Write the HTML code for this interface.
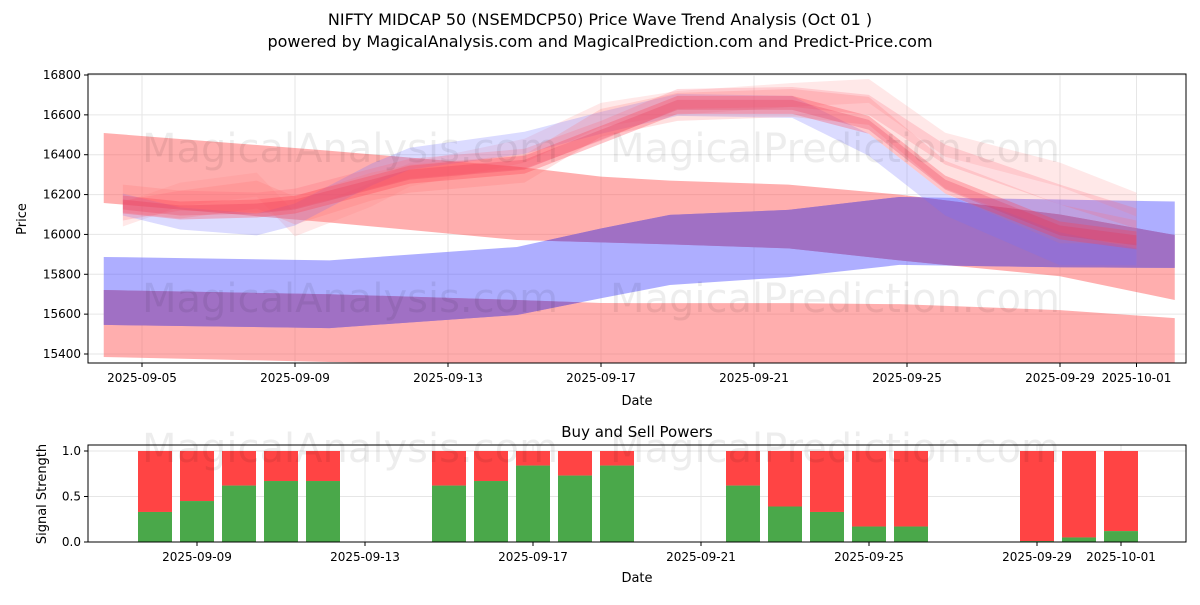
<!DOCTYPE html>
<html><head><meta charset="utf-8"><style>
body{margin:0;background:#fff;font-family:"Liberation Sans","DejaVu Sans",sans-serif}
svg text{font-family:"DejaVu Sans","Liberation Sans",sans-serif}
</style></head><body>
<svg id="c" width="1200" height="600" xmlns="http://www.w3.org/2000/svg">
<defs><clipPath id="pc"><rect x="88" y="74" width="1098" height="289"/></clipPath><clipPath id="redclip"></clipPath></defs>
<text x="600" y="25" font-size="16" text-anchor="middle">NIFTY MIDCAP 50 (NSEMDCP50) Price Wave Trend Analysis (Oct 01 )</text>
<text x="600" y="47" font-size="16" text-anchor="middle">powered by MagicalAnalysis.com and MagicalPrediction.com and Predict-Price.com</text>
<g id="topg"></g><g id="botg"></g>
</svg>
<script>
// ---- top chart data (day offsets from 2025-09-05) ----
const bandDays=[-1,4.9,9.8,12,13.8,16.9,19.8,24,27];
const redWideHi=[16509,16420,16340,16290,16270,16250,16200,16100,15997];
const redWideLo=[16158,16060,15972,15960,15950,15930,15870,15790,15671];
const blueHi=[15887,15870,15937,16030,16098,16123,16188,16175,16165];
const blueLo=[15546,15530,15596,15680,15746,15786,15847,15835,15832];
const redLowHi=[15721,15700,15671,15656,15655,15655,15650,15620,15580];
const redLowLo=[15385,15360,15345,15340,15335,15330,15330,15330,15320];
const waveDays=[-0.5,1,3,4,6,7,10,12,14,17,19,21,24,26];
const waveMid1=[16150,16120,16130,16150,16250,16300,16350,16500,16650,16650,16550,16250,16020,15970];
const waveMid2=[16180,16150,16200,16120,16240,16280,16330,16560,16640,16660,16620,16300,16080,16000];
const waveMid3=[16120,16170,16160,16180,16280,16330,16380,16520,16680,16690,16650,16400,16200,16080];
const waveMid4=[16100,16200,16250,16050,16200,16300,16420,16600,16660,16700,16720,16450,16300,16150];
const blueMid1=[16150,16080,16050,16100,16300,16380,16460,16560,16650,16640,16450,16150,15900,15900];
const xTicks=["2025-09-05","2025-09-09","2025-09-13","2025-09-17","2025-09-21","2025-09-25","2025-09-29","2025-10-01"];
const xTickDays=[0,4,8,12,16,20,24,26];
const yTicks=[15400,15600,15800,16000,16200,16400,16600,16800];
// ---- bottom chart data ----
const barDays=[3,4,5,6,7,10,11,12,13,14,17,18,19,20,21,24,25,26];
const buyPower=[0.33,0.45,0.62,0.67,0.67,0.62,0.67,0.84,0.73,0.84,0.62,0.39,0.33,0.17,0.17,0.01,0.05,0.12];
const sigTicks=[0,0.5,1.0];

const NS="http://www.w3.org/2000/svg";
function mk(p,t,a){const e=document.createElementNS(NS,t);for(const k in a)e.setAttribute(k,a[k]);p.appendChild(e);return e;}
const T={l:88,r:1186,t:74,b:363};
const tx=d=>142+d*38.25;
const ty=v=>75+(16800-v)*279/1400;
const topG=document.getElementById('topg');
yTicks.forEach(v=>{const y=ty(v);mk(topG,'line',{x1:T.l,x2:T.r,y1:y,y2:y,stroke:'#e6e6e6'});
 mk(topG,'line',{x1:T.l-4,x2:T.l,y1:y,y2:y,stroke:'#000'});
 const t=mk(topG,'text',{x:T.l-7,y:y+4,'font-size':12,'text-anchor':'end'});t.textContent=v;
 
 });
xTickDays.forEach((d,i)=>{const x=tx(d);mk(topG,'line',{x1:x,x2:x,y1:T.t,y2:T.b,stroke:'#e6e6e6'});
 mk(topG,'line',{x1:x,x2:x,y1:T.b,y2:T.b+4,stroke:'#000'});
 const t=mk(topG,'text',{x:x,y:T.b+19,'font-size':12,'text-anchor':'middle'});t.textContent=xTicks[i];
 
 });
const plotG=mk(topG,'g',{'clip-path':'url(#pc)'});
function pts(days,hi,lo){
 let p=days.map((d,i)=>tx(d)+','+ty(hi[i]));
 return p.concat(days.map((d,i)=>tx(d)+','+ty(lo[i])).reverse()).join(' ');}
function band(parent,days,hi,lo,fill,op,name){
 const p=mk(parent,'polygon',{points:pts(days,hi,lo),fill:fill,'fill-opacity':op});
 
 return p;}
band(plotG,bandDays,redLowHi,redLowLo,'#ff5555',0.48,'red-lower-band');
band(plotG,bandDays,redWideHi,redWideLo,'#ff5555',0.48,'red-wide-band');
band(plotG,bandDays,blueHi,blueLo,'#5555ff',0.48,'blue-band');
const rc=document.getElementById('redclip');
mk(rc,'polygon',{points:pts(bandDays,redWideHi,redWideLo)});
mk(rc,'polygon',{points:pts(bandDays,redLowHi,redLowLo)});
const ov=mk(plotG,'g',{'clip-path':'url(#redclip)'});
band(ov,bandDays,blueHi,blueLo,'#a070c4',1,'overlap-band');
function wave(mid,w,fill,op,name){band(plotG,waveDays,mid.map(v=>v+w),mid.map(v=>v-w),fill,op,name);}
wave(waveMid4,60,'#ff8080',0.18,'red-wave-light');
wave(blueMid1,55,'#7070ff',0.25,'blue-wave');
wave(waveMid2,70,'#ff7070',0.22,'red-wave-wide');
wave(waveMid3,50,'#ff6070',0.22,'red-wave-2');
wave(waveMid1,45,'#ff4050',0.3,'red-wave');
wave(waveMid1,25,'#e83050',0.25,'red-wave-core');
[[350,162],[835,162],[350,312],[835,312]].forEach((p,i)=>{
 const w=mk(topG,'text',{x:p[0],y:p[1],'font-size':40,fill:'#000','fill-opacity':0.07,'text-anchor':'middle'});
 w.textContent=i%2?'MagicalPrediction.com':'MagicalAnalysis.com';});
mk(topG,'rect',{x:T.l,y:T.t,width:T.r-T.l,height:T.b-T.t,fill:'none',stroke:'#000'});
let t=mk(topG,'text',{x:637,y:405,'font-size':13,'text-anchor':'middle'});t.textContent='Date';


t=mk(topG,'text',{x:26,y:219,'font-size':13,'text-anchor':'middle',transform:'rotate(-90 26 219)'});t.textContent='Price';



// bottom
const B={l:88,r:1186,t:445,b:542};
const bx=d=>29+d*42;
const by=v=>542-v*91;
const botG=document.getElementById('botg');
t=mk(botG,'text',{x:637,y:437,'font-size':15,'text-anchor':'middle'});t.textContent='Buy and Sell Powers';


sigTicks.forEach(v=>{const y=by(v);mk(botG,'line',{x1:B.l,x2:B.r,y1:y,y2:y,stroke:'#e6e6e6'});
 mk(botG,'line',{x1:B.l-4,x2:B.l,y1:y,y2:y,stroke:'#000'});
 const tt=mk(botG,'text',{x:B.l-7,y:y+4,'font-size':12,'text-anchor':'end'});tt.textContent=v.toFixed(1);
 
 });
xTickDays.forEach((d,i)=>{const x=bx(d);if(x<B.l)return;
 mk(botG,'line',{x1:x,x2:x,y1:B.t,y2:B.b,stroke:'#e6e6e6'});
 mk(botG,'line',{x1:x,x2:x,y1:B.b,y2:B.b+4,stroke:'#000'});
 const tt=mk(botG,'text',{x:x,y:B.b+19,'font-size':12,'text-anchor':'middle'});tt.textContent=xTicks[i];
 
 });
barDays.forEach((d,i)=>{const x=bx(d)-17;const g=buyPower[i];
 const s=mk(botG,'rect',{x:x,y:by(1),width:34,height:by(g)-by(1),fill:'#ff4444'});
 
 
 const b=mk(botG,'rect',{x:x,y:by(g),width:34,height:by(0)-by(g),fill:'#4aa84a'});
 
 });
mk(botG,'text',{x:350,y:462,'font-size':40,fill:'#000','fill-opacity':0.07,'text-anchor':'middle'}).textContent='MagicalAnalysis.com';
mk(botG,'text',{x:835,y:462,'font-size':40,fill:'#000','fill-opacity':0.07,'text-anchor':'middle'}).textContent='MagicalPrediction.com';
mk(botG,'rect',{x:B.l,y:B.t,width:B.r-B.l,height:B.b-B.t,fill:'none',stroke:'#000'});
t=mk(botG,'text',{x:637,y:582,'font-size':13,'text-anchor':'middle'});t.textContent='Date';


t=mk(botG,'text',{x:46,y:494,'font-size':13,'text-anchor':'middle',transform:'rotate(-90 46 494)'});t.textContent='Signal Strength';


</script>
</body></html>
